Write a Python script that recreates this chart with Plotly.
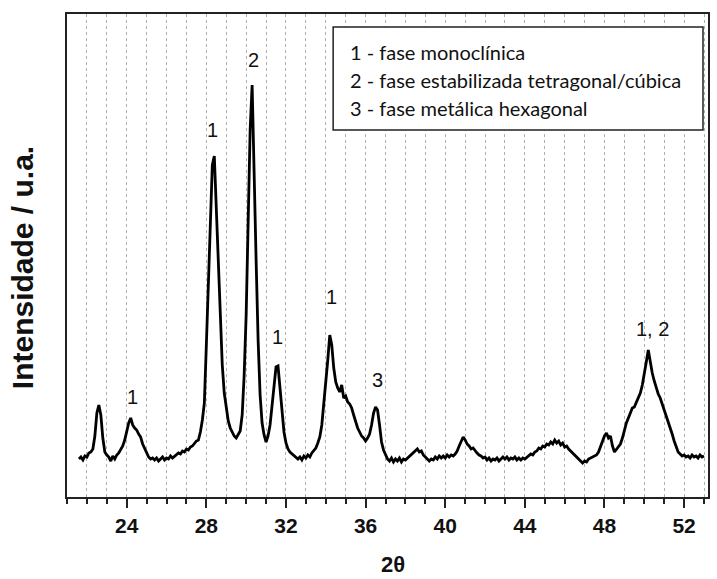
import plotly.graph_objects as go

# ---- data ----
start_2theta = 21.6
step_2theta = 0.1
intensity = [
    38, 40, 37, 41,
    40, 44, 45, 48, 61, 84, 92, 82, 59, 45,
    42, 40, 36, 41, 38, 42, 44, 47, 51, 57,
    67, 74, 79, 72, 69, 67, 63, 60, 53, 48,
    43, 40, 38, 39, 37, 39, 36, 38, 40, 37,
    39, 38, 41, 39, 41, 42, 44, 43, 46, 45,
    48, 47, 50, 51, 54, 56, 57, 65, 77, 94,
    152, 217, 272, 332, 341, 287, 247, 187, 132, 104,
    87, 76, 69, 65, 61, 59, 62, 66, 82, 122,
    182, 267, 367, 412, 312, 237, 157, 102, 74, 62,
    55, 61, 72, 90, 112, 130, 131, 109, 82, 65,
    54, 48, 45, 43, 41, 40, 38, 40, 37, 41,
    39, 42, 40, 44, 46, 49, 54, 60, 72, 92,
    112, 137, 162, 152, 129, 115, 109, 105, 112, 99,
    101, 95, 93, 89, 82, 75, 69, 65, 61, 59,
    56, 59, 63, 72, 84, 90, 87, 72, 55, 47,
    42, 38, 36, 39, 35, 38, 36, 39, 35, 38,
    37, 39, 40, 42, 45, 47, 48, 45, 46, 42,
    40, 38, 36, 38, 37, 40, 38, 41, 39, 41,
    39, 42, 40, 42, 41, 43, 46, 51, 56, 60,
    57, 53, 51, 48, 49, 46, 44, 42, 41, 39,
    40, 37, 39, 36, 38, 37, 39, 36, 38, 40,
    38, 40, 37, 39, 38, 40, 37, 39, 37, 39,
    38, 40, 41, 43, 42, 45, 46, 49, 48, 51,
    50, 53, 52, 55, 53, 57, 54, 56, 52, 54,
    50, 51, 48, 46, 44, 42, 40, 37, 36, 34,
    36, 35, 38, 39, 40, 41, 42, 45, 50, 57,
    61, 64, 59, 61, 51, 45, 48, 50, 53, 59,
    67, 74, 79, 84, 89, 90, 95, 99, 104, 112,
    122, 135, 147, 135, 124, 116, 108, 103, 99, 93,
    88, 82, 77, 70, 63, 56, 50, 45, 43, 41,
    42, 40, 41, 39, 42, 40, 41, 39, 42, 40,
    41,
]
two_theta = [round(start_2theta + step_2theta * i, 2) for i in range(len(intensity))]

peak_labels = ["1", "1", "2", "1", "1", "3", "1, 2"]
peak_label_x = [24.3, 28.3, 30.35, 31.55, 34.3, 36.6, 50.4]
peak_label_y = [100, 367, 437, 160, 200, 117, 168]

legend_lines = [
    "1 - fase monoclínica",
    "2 - fase estabilizada tetragonal/cúbica",
    "3 - fase metálica hexagonal",
]

tick_values = [24, 28, 32, 36, 40, 44, 48, 52]

fig = go.Figure()
fig.add_trace(go.Scatter(
    x=two_theta, y=intensity, mode="lines",
    line=dict(color="black", width=2.8),
    showlegend=False, hoverinfo="skip",
))

for t, xv, yv in zip(peak_labels, peak_label_x, peak_label_y):
    fig.add_annotation(x=xv, y=yv, text=t, showarrow=False,
                       font=dict(family="Liberation Sans", size=20, color="#111"),
                       xanchor="center", yanchor="middle")

# legend box
fig.add_shape(type="rect", xref="paper", yref="paper",
              x0=0.4152, x1=0.9922, y0=0.7598, y1=0.9731,
              line=dict(color="#222", width=1.5), fillcolor="white", layer="above")
legend_y = [0.9213, 0.8634, 0.8054]
for t, yv in zip(legend_lines, legend_y):
    fig.add_annotation(x=0.4385, y=yv, xref="paper", yref="paper", text=t,
                       showarrow=False, xanchor="left", yanchor="middle",
                       font=dict(family="Lato", size=20, color="#111"))

# axis titles
fig.add_annotation(x=-0.07, y=0.474, xref="paper", yref="paper",
                   text="Intensidade / u.a.", textangle=-90, showarrow=False,
                   xanchor="center", yanchor="middle",
                   font=dict(family="Liberation Sans", size=30, color="#111", weight="bold"))
fig.add_annotation(x=0.508, y=-0.14, xref="paper", yref="paper",
                   text="2θ", showarrow=False, xanchor="center", yanchor="middle",
                   font=dict(family="Liberation Sans", size=22, color="#111", weight="bold"))

fig.update_xaxes(
    range=[21, 53.2], tickmode="array", tickvals=tick_values,
    ticks="outside", ticklen=9, tickwidth=2, tickcolor="#222",
    tickfont=dict(family="Liberation Sans", size=21, color="#111", weight="bold"),
    showline=True, linecolor="#222", linewidth=2, mirror=True,
    showgrid=True, gridcolor="#b0b0b0", griddash="dot", gridwidth=1,
    minor=dict(dtick=1, tick0=0, ticks="outside", ticklen=5, tickwidth=2,
               tickcolor="#222", showgrid=True, gridcolor="#b0b0b0",
               griddash="dot", gridwidth=1),
    zeroline=False,
)
fig.update_yaxes(
    range=[0, 483], showticklabels=False, ticks="", showgrid=False,
    showline=True, linecolor="#222", linewidth=2, mirror=True, zeroline=False,
)

fig.update_layout(
    width=717, height=579,
    margin=dict(l=67, r=7, t=14, b=82),
    paper_bgcolor="white", plot_bgcolor="white",
)

fig.write_html("out.html")
